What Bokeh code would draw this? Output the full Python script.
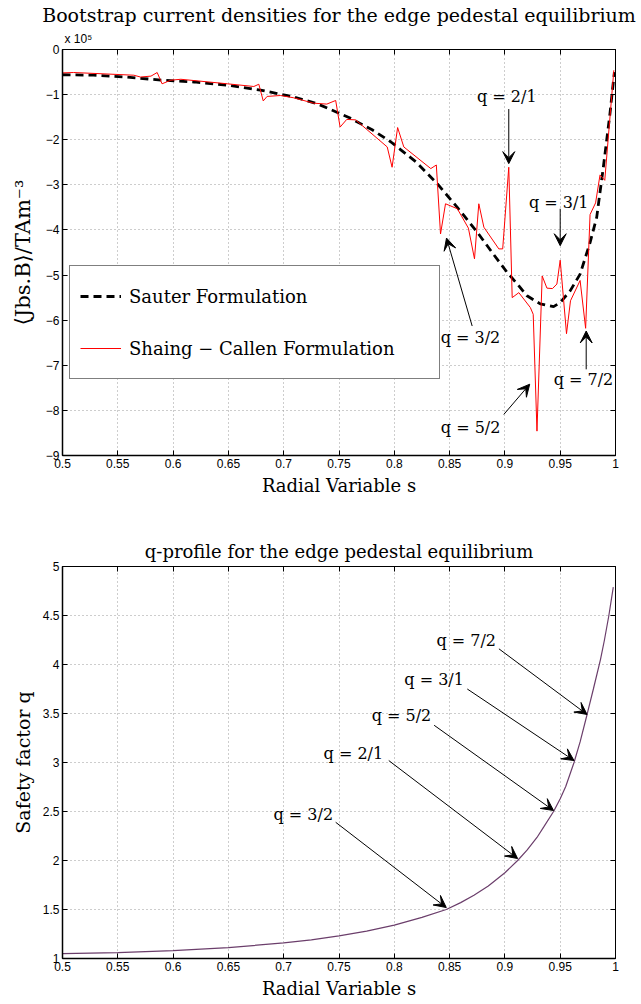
from bokeh.plotting import figure
from bokeh.models import (Range1d, FixedTicker, LinearAxis, Legend, LegendItem,
                          Title, Arrow, VeeHead, ColumnDataSource)
from bokeh.layouts import column
from bokeh.embed import file_html
from bokeh.resources import INLINE
from bokeh.core.properties import value

# ---------------- data: bootstrap current (units of 1e5 T A m^-3) ----------------
sauter_s = [0.50, 0.528, 0.558, 0.589, 0.619, 0.649, 0.679, 0.709, 0.730, 0.748,
            0.760, 0.780, 0.797, 0.820, 0.839, 0.857, 0.875, 0.890, 0.902, 0.912,
            0.920, 0.932, 0.944, 0.950, 0.959, 0.968, 0.977, 0.983, 0.989, 0.995, 0.999]
sauter_j = [-0.56, -0.57, -0.61, -0.68, -0.72, -0.79, -0.90, -1.05, -1.20, -1.39,
            -1.52, -1.78, -2.05, -2.50, -2.98, -3.50, -4.05, -4.55, -4.94, -5.22,
            -5.46, -5.64, -5.70, -5.61, -5.35, -4.98, -4.28, -3.72, -2.61, -1.42, -0.50]

sc_s = [0.498, 0.510, 0.5645, 0.5705, 0.580, 0.5856, 0.590, 0.598, 0.607, 0.649,
        0.673, 0.6775, 0.6815, 0.685, 0.697, 0.709, 0.727, 0.739, 0.747, 0.751,
        0.757, 0.765, 0.7936, 0.798, 0.803, 0.8086, 0.833, 0.838, 0.8418, 0.8463,
        0.857, 0.867, 0.8725, 0.8764, 0.881, 0.8945, 0.898, 0.9035, 0.9066, 0.9126,
        0.923, 0.9256, 0.929, 0.9337, 0.938, 0.943, 0.947, 0.950, 0.9557, 0.9593,
        0.968, 0.973, 0.977, 0.982, 0.986, 0.9903, 0.9985]
sc_j = [-0.52, -0.51, -0.57, -0.61, -0.59, -0.51, -0.76, -0.68, -0.66, -0.76,
        -0.82, -0.77, -1.14, -1.04, -1.02, -1.07, -1.19, -1.21, -1.13, -1.72,
        -1.55, -1.56, -2.16, -2.61, -1.73, -2.16, -2.64, -2.56, -4.09, -3.42,
        -3.53, -3.96, -4.64, -3.42, -3.94, -4.42, -4.42, -2.61, -5.50, -5.39,
        -5.72, -5.87, -8.46, -5.02, -5.29, -5.30, -5.20, -4.67, -6.30, -5.57,
        -5.12, -6.18, -3.66, -3.40, -2.78, -2.90, -0.46]

# ---------------- data: q profile ----------------
q_s = [0.50, 0.55, 0.60, 0.65, 0.70, 0.725, 0.75, 0.775, 0.80, 0.825, 0.847, 0.86,
       0.872, 0.885, 0.90, 0.9115, 0.92, 0.929, 0.935, 0.944, 0.95, 0.955, 0.9625,
       0.968, 0.9743, 0.98, 0.9864, 0.99, 0.994, 0.998]
q_vals = [1.05, 1.06, 1.08, 1.11, 1.16, 1.19, 1.23, 1.28, 1.34, 1.42, 1.50, 1.57,
          1.645, 1.74, 1.875, 2.00, 2.105, 2.235, 2.34, 2.50, 2.63, 2.755, 3.00,
          3.21, 3.49, 3.75, 4.05, 4.25, 4.50, 4.79]

# ---------------- ticks ----------------
x_ticks = [0.5, 0.55, 0.6, 0.65, 0.7, 0.75, 0.8, 0.85, 0.9, 0.95, 1.0]
x_tick_labels = ["0.5", "0.55", "0.6", "0.65", "0.7", "0.75", "0.8", "0.85", "0.9", "0.95", "1"]
j_ticks = [-9, -8, -7, -6, -5, -4, -3, -2, -1, 0]
j_tick_labels = ["\u22129", "\u22128", "\u22127", "\u22126", "\u22125", "\u22124",
                 "\u22123", "\u22122", "\u22121", "0"]
q_ticks = [1, 1.5, 2, 2.5, 3, 3.5, 4, 4.5, 5]
q_tick_labels = ["1", "1.5", "2", "2.5", "3", "3.5", "4", "4.5", "5"]

# ---------------- annotations ----------------
top_labels = ["q = 2/1", "q = 3/1", "q = 3/2", "q = 5/2", "q = 7/2"]
top_label_s = [0.9017, 0.9487, 0.8689, 0.869, 0.971]
top_label_j = [-1.05, -3.39, -6.39, -8.39, -7.31]
top_tail_s = [0.9035, 0.950, 0.8704, 0.899, 0.9735]
top_tail_j = [-1.32, -3.53, -6.13, -8.09, -7.09]
top_tip_s = [0.9035, 0.950, 0.8472, 0.9224, 0.9735]
top_tip_j = [-2.53, -4.35, -4.18, -7.42, -6.24]

bot_labels = ["q = 7/2", "q = 3/1", "q = 5/2", "q = 2/1", "q = 3/2"]
bot_label_s = [0.865, 0.836, 0.8065, 0.763, 0.7177]
bot_label_q = [4.25, 3.85, 3.48, 3.09, 2.47]
bot_tail_s = [0.8946, 0.866, 0.836, 0.795, 0.747]
bot_tail_q = [4.16, 3.75, 3.38, 3.02, 2.39]
bot_tip_s = [0.9743, 0.9625, 0.944, 0.9115, 0.847]
bot_tip_q = [3.49, 3.02, 2.51, 2.02, 1.52]

SERIF = "DejaVu Serif"
SANS = "Liberation Sans"
GRID = "#9a9a9a"


def style(p, yticks, ylabels, ylabel, ylabel_standoff, ylabel_size):
    p.background_fill_color = "white"
    p.border_fill_color = "white"
    p.outline_line_color = "black"
    p.outline_line_width = 1
    p.title.text_font = SERIF
    p.title.text_font_size = "18px"
    p.title.text_font_style = "normal"
    p.title.align = "center"
    p.title.text_color = "black"

    xa = p.xaxis[0]
    xa.ticker = FixedTicker(ticks=x_ticks)
    xa.major_label_overrides = dict(zip(x_ticks, x_tick_labels))
    ya = p.yaxis[0]
    ya.ticker = FixedTicker(ticks=yticks)
    ya.major_label_overrides = dict(zip(yticks, ylabels))
    for ax in (xa, ya):
        ax.major_tick_in = 5
        ax.major_tick_out = 0
        ax.minor_tick_line_color = None
        ax.axis_line_color = "black"
        ax.axis_line_width = 1.5
        ax.major_tick_line_color = "black"
        ax.major_label_text_font = SANS
        ax.major_label_text_font_size = "12px"
        ax.major_label_text_color = "black"
        ax.major_label_standoff = 3
        ax.axis_label_text_font = SERIF
        ax.axis_label_text_font_size = "18px"
        ax.axis_label_text_font_style = "normal"
        ax.axis_label_text_color = "black"
    xa.axis_label = "Radial Variable s"
    xa.axis_label_standoff = 4
    ya.axis_label = ylabel
    ya.axis_label_standoff = ylabel_standoff
    ya.axis_label_text_font_size = ylabel_size

    top = LinearAxis(ticker=FixedTicker(ticks=x_ticks), major_tick_in=5, major_tick_out=0,
                     minor_tick_line_color=None, major_label_text_font_size="0px",
                     major_label_text_color=None, major_label_standoff=0,
                     axis_line_color="black", major_tick_line_color="black")
    right = LinearAxis(ticker=FixedTicker(ticks=yticks), major_tick_in=5, major_tick_out=0,
                       minor_tick_line_color=None, major_label_text_font_size="0px",
                       major_label_text_color=None, major_label_standoff=0,
                       axis_line_color="black", major_tick_line_color="black")
    p.add_layout(top, "above")
    p.add_layout(right, "right")

    for g in (p.xgrid[0], p.ygrid[0]):
        g.grid_line_color = GRID
        g.grid_line_dash = "1 3"
        g.grid_line_width = 1
    p.xgrid[0].ticker = FixedTicker(ticks=x_ticks)
    p.ygrid[0].ticker = FixedTicker(ticks=yticks)


# ---------------- top figure ----------------
p1 = figure(width=641, height=505, x_range=Range1d(0.5, 1.0), y_range=Range1d(-9, 0),
            output_backend="svg", toolbar_location=None, tools="",
            title="Bootstrap current densities for the edge pedestal equilibrium",
            min_border_left=62, min_border_right=26, min_border_top=49, min_border_bottom=50)
style(p1, j_ticks, j_tick_labels, "\u27e8Jbs.B\u27e9/TAm\u207b\u00b3", 8, "21px")
p1.add_layout(Title(text="x 10\u2075", align="left", offset=2, text_font=SANS,
                    text_font_size="12px", text_font_style="normal", text_color="black",
                    standoff=8), "above")
p1.title.standoff = 0
p1.title.text_font_size = "19px"

r_sauter = p1.line(sauter_s, sauter_j, line_color="black", line_width=2.8, line_dash="8 5")
r_sc = p1.line(sc_s, sc_j, line_color="#ff0000", line_width=1)

legend = Legend(items=[LegendItem(label="Sauter Formulation", renderers=[r_sauter]),
                       LegendItem(label="Shaing \u2212 Callen Formulation", renderers=[r_sc])],
                location=(7, 76), label_text_font=SERIF, label_text_font_size="18px",
                label_text_color="black", glyph_width=41, glyph_height=40, label_height=40,
                label_width=300, spacing=12, padding=10, margin=0, label_standoff=8,
                border_line_color="black", border_line_width=1, background_fill_alpha=1)
p1.add_layout(legend)

top_src = ColumnDataSource(dict(s=top_label_s, j=top_label_j, t=top_labels))
p1.text(x="s", y="j", text="t", source=top_src, text_font=value(SERIF), text_font_size="16px",
        text_align="center", text_baseline="middle", text_color="black")
top_arrows = ColumnDataSource(dict(x0=top_tail_s, y0=top_tail_j, x1=top_tip_s, y1=top_tip_j))
p1.add_layout(Arrow(end=VeeHead(size=12, fill_color="black", line_color="black"),
                    x_start="x0", y_start="y0", x_end="x1", y_end="y1", source=top_arrows,
                    line_color="black", line_width=1))

# ---------------- bottom figure ----------------
p2 = figure(width=641, height=499, x_range=Range1d(0.5, 1.0), y_range=Range1d(1, 5),
            output_backend="svg", toolbar_location=None, tools="",
            title="q-profile for the edge pedestal equilibrium",
            min_border_left=62, min_border_right=26, min_border_top=61, min_border_bottom=46)
style(p2, q_ticks, q_tick_labels, "Safety factor q", 6, "19px")
p2.title.standoff = 10

p2.line(q_s, q_vals, line_color="#6b3e6b", line_width=1.2)

bot_src = ColumnDataSource(dict(s=bot_label_s, q=bot_label_q, t=bot_labels))
p2.text(x="s", y="q", text="t", source=bot_src, text_font=value(SERIF), text_font_size="16px",
        text_align="center", text_baseline="middle", text_color="black")
bot_arrows = ColumnDataSource(dict(x0=bot_tail_s, y0=bot_tail_q, x1=bot_tip_s, y1=bot_tip_q))
p2.add_layout(Arrow(end=VeeHead(size=12, fill_color="black", line_color="black"),
                    x_start="x0", y_start="y0", x_end="x1", y_end="y1", source=bot_arrows,
                    line_color="black", line_width=1))

layout = column(p1, p2, spacing=0)
open("out.html", "w").write(file_html(layout, INLINE))
